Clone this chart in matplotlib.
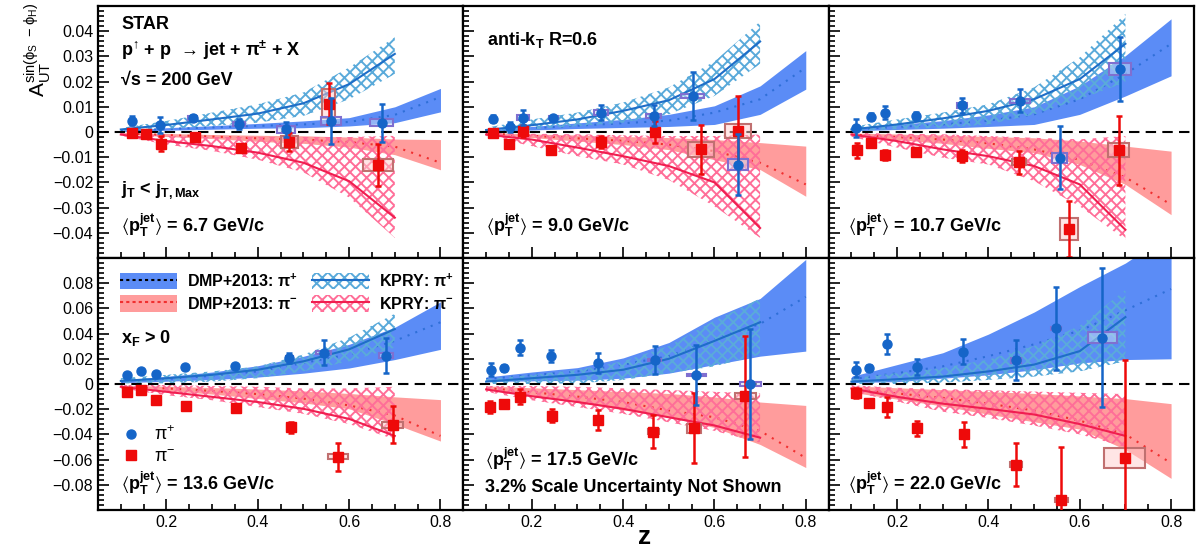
import matplotlib
matplotlib.use('Agg')
import matplotlib.pyplot as plt
from matplotlib.patches import Patch, Rectangle
from matplotlib.lines import Line2D
from matplotlib.ticker import MultipleLocator, FuncFormatter

plt.rcParams['font.family'] = ['Liberation Sans', 'DejaVu Sans']
plt.rcParams['mathtext.fontset'] = 'custom'
plt.rcParams['mathtext.rm'] = 'Liberation Sans'
plt.rcParams['mathtext.default'] = 'regular'
plt.rcParams['hatch.linewidth'] = 1.4

# ---- data: one inner list per panel (top-left, top-mid, top-right, bottom-left, bottom-mid, bottom-right)
jet_pt = ['6.7', '9.0', '10.7', '13.6', '17.5', '22.0']

pip_z = [[0.125, 0.186, 0.257, 0.358, 0.461, 0.561, 0.671],
         [0.115, 0.152, 0.180, 0.247, 0.352, 0.467, 0.552, 0.651],
         [0.111, 0.143, 0.173, 0.241, 0.342, 0.469, 0.556, 0.689],
         [0.113, 0.144, 0.178, 0.241, 0.350, 0.469, 0.544, 0.681],
         [0.111, 0.140, 0.175, 0.242, 0.346, 0.469, 0.560, 0.678],
         [0.110, 0.138, 0.177, 0.243, 0.344, 0.461, 0.549, 0.649]]
pip_a = [[0.0044, 0.0028, 0.0057, 0.0033, 0.0010, 0.0044, 0.0037],
         [0.0053, 0.0020, 0.0057, 0.0057, 0.0077, 0.0064, 0.0143, -0.0129],
         [0.0017, 0.0061, 0.0077, 0.0064, 0.0106, 0.0124, -0.0102, 0.0250],
         [0.0073, 0.0105, 0.0081, 0.0132, 0.0145, 0.0205, 0.0248, 0.0226],
         [0.0113, 0.0127, 0.0288, 0.0221, 0.0167, 0.0189, 0.0073, 0.0000],
         [0.0113, 0.0127, 0.0320, 0.0135, 0.0256, 0.0189, 0.0442, 0.0369]]
pip_err = [[0.0018, 0.0030, 0.0010, 0.0020, 0.0030, 0.0090, 0.0075],
           [0.0015, 0.0020, 0.0030, 0.0008, 0.0030, 0.0042, 0.0097, 0.0120],
           [0.0035, 0.0015, 0.0025, 0.0015, 0.0030, 0.0045, 0.0125, 0.0125],
           [0.0015, 0.0015, 0.0015, 0.0015, 0.0015, 0.0040, 0.0100, 0.0140],
           [0.0050, 0.0020, 0.0060, 0.0050, 0.0080, 0.0110, 0.0240, 0.0440],
           [0.0060, 0.0020, 0.0080, 0.0060, 0.0100, 0.0160, 0.0330, 0.0550]]
pip_sysx = [[0, 0, 0.010, 0.013, 0.020, 0.022, 0.025],
            [0, 0, 0.013, 0.010, 0.015, 0.016, 0.025, 0.022],
            [0, 0, 0, 0, 0.010, 0.022, 0.016, 0.024],
            [0, 0, 0, 0, 0, 0.008, 0.016, 0.016],
            [0, 0, 0, 0, 0, 0.015, 0.021, 0.023],
            [0, 0, 0, 0, 0, 0.011, 0.011, 0.032]]
pip_sysy = [[0, 0, 0.0008, 0.0008, 0.0012, 0.0015, 0.0015],
            [0, 0, 0.0010, 0.0005, 0.0010, 0.0008, 0.0008, 0.0022],
            [0, 0, 0, 0, 0.0010, 0.0008, 0.0020, 0.0022],
            [0, 0, 0, 0, 0, 0.0020, 0.0013, 0.0020],
            [0, 0, 0, 0, 0, 0.0010, 0.0010, 0.0015],
            [0, 0, 0, 0, 0, 0.0020, 0.0010, 0.0045]]

pim_z = [[0.125, 0.156, 0.189, 0.263, 0.363, 0.469, 0.555, 0.664],
         [0.115, 0.151, 0.181, 0.243, 0.352, 0.469, 0.571, 0.652],
         [0.113, 0.143, 0.173, 0.241, 0.343, 0.467, 0.576, 0.685],
         [0.113, 0.144, 0.178, 0.243, 0.352, 0.472, 0.575, 0.695],
         [0.109, 0.140, 0.175, 0.244, 0.346, 0.466, 0.555, 0.668],
         [0.110, 0.138, 0.177, 0.243, 0.346, 0.461, 0.560, 0.699]]
pim_a = [[-0.0002, -0.0007, -0.0046, -0.0019, -0.0064, -0.0039, 0.0113, -0.0131],
         [-0.0003, -0.0049, 0.0004, -0.0072, -0.0040, 0.0000, -0.0069, 0.0004],
         [-0.0073, -0.0042, -0.0090, -0.0078, -0.0096, -0.0120, -0.0385, -0.0072],
         [-0.0067, -0.0048, -0.0124, -0.0175, -0.0189, -0.0345, -0.0579, -0.0323],
         [-0.0183, -0.0162, -0.0102, -0.0250, -0.0286, -0.0377, -0.0350, -0.0097],
         [-0.0075, -0.0150, -0.0183, -0.0350, -0.0399, -0.0641, -0.0919, -0.0587]]
pim_err = [[0.0015, 0.0008, 0.0030, 0.0010, 0.0010, 0.0035, 0.0080, 0.0083],
           [0.0010, 0.0010, 0.0025, 0.0008, 0.0023, 0.0042, 0.0096, 0.0138],
           [0.0030, 0.0015, 0.0020, 0.0015, 0.0025, 0.0045, 0.0110, 0.0137],
           [0.0015, 0.0015, 0.0015, 0.0015, 0.0015, 0.0045, 0.0110, 0.0145],
           [0.0050, 0.0020, 0.0060, 0.0050, 0.0080, 0.0130, 0.0280, 0.0480],
           [0.0040, 0.0020, 0.0080, 0.0060, 0.0100, 0.0170, 0.0420, 0.0780]]
pim_sysx = [[0, 0, 0, 0, 0, 0.018, 0.015, 0.033],
            [0, 0, 0, 0, 0, 0, 0.028, 0.029],
            [0, 0, 0, 0, 0.008, 0.015, 0.020, 0.023],
            [0, 0, 0, 0, 0, 0.008, 0.022, 0.022],
            [0, 0, 0, 0, 0, 0.012, 0.015, 0.023],
            [0, 0, 0, 0, 0, 0.013, 0.015, 0.045]]
pim_sysy = [[0, 0, 0, 0, 0, 0.0025, 0.0057, 0.0022],
            [0, 0, 0, 0, 0, 0, 0.0030, 0.0028],
            [0, 0, 0, 0, 0.0010, 0.0012, 0.0045, 0.0028],
            [0, 0, 0, 0, 0, 0.0020, 0.0020, 0.0025],
            [0, 0, 0, 0, 0, 0.0020, 0.0035, 0.0025],
            [0, 0, 0, 0, 0, 0.0020, 0.0015, 0.0080]]

# ---- theory curves
z_dmp = [0.1, 0.2, 0.3, 0.4, 0.5, 0.6, 0.7, 0.8]
z_kpry = [0.1, 0.2, 0.3, 0.4, 0.5, 0.6, 0.7]

dmp_pip_mid = [[0.0005, 0.0012, 0.0018, 0.0024, 0.0030, 0.0040, 0.0068, 0.0139],
               [0.0005, 0.0015, 0.0025, 0.0035, 0.0045, 0.0077, 0.0130, 0.0256],
               [0.0010, 0.0020, 0.0030, 0.0045, 0.0070, 0.0130, 0.0230, 0.0350],
               [0.0020, 0.0040, 0.0065, 0.0100, 0.0167, 0.0234, 0.0342, 0.0490],
               [0.0040, 0.0070, 0.0100, 0.0154, 0.0221, 0.0356, 0.0477, 0.0692],
               [0.0038, 0.0086, 0.0140, 0.0221, 0.0315, 0.0423, 0.0585, 0.0754]]
dmp_pip_lo = [[0.0002, 0.0007, 0.0011, 0.0015, 0.0017, 0.0024, 0.0037, 0.0080],
              [0.0002, 0.0008, 0.0014, 0.0018, 0.0022, 0.0030, 0.0070, 0.0170],
              [0.0005, 0.0010, 0.0015, 0.0022, 0.0030, 0.0070, 0.0143, 0.0223],
              [0.0010, 0.0022, 0.0035, 0.0055, 0.0086, 0.0127, 0.0194, 0.0275],
              [0.0020, 0.0025, 0.0030, 0.0046, 0.0086, 0.0154, 0.0221, 0.0261],
              [0.0011, 0.0019, 0.0046, 0.0073, 0.0113, 0.0167, 0.0194, 0.0200]]
dmp_pip_hi = [[0.0008, 0.0017, 0.0025, 0.0034, 0.0044, 0.0057, 0.0100, 0.0173],
              [0.0008, 0.0022, 0.0036, 0.0050, 0.0070, 0.0104, 0.0183, 0.0323],
              [0.0015, 0.0030, 0.0045, 0.0068, 0.0100, 0.0183, 0.0303, 0.0449],
              [0.0030, 0.0060, 0.0095, 0.0145, 0.0220, 0.0315, 0.0450, 0.0652],
              [0.0055, 0.0095, 0.0130, 0.0207, 0.0329, 0.0530, 0.0679, 0.0989],
              [0.0060, 0.0154, 0.0248, 0.0396, 0.0571, 0.0773, 0.0960, 0.1200]]

dmp_pim_mid = [[-0.0005, -0.0012, -0.0018, -0.0025, -0.0030, -0.0040, -0.0058, -0.0122],
               [-0.0005, -0.0015, -0.0025, -0.0035, -0.0050, -0.0076, -0.0122, -0.0208],
               [-0.0010, -0.0020, -0.0030, -0.0045, -0.0069, -0.0110, -0.0180, -0.0288],
               [-0.0020, -0.0035, -0.0055, -0.0080, -0.0116, -0.0170, -0.0250, -0.0412],
               [-0.0030, -0.0065, -0.0100, -0.0143, -0.0210, -0.0264, -0.0372, -0.0587],
               [-0.0040, -0.0075, -0.0110, -0.0156, -0.0210, -0.0291, -0.0399, -0.0628]]
dmp_pim_hi = [[-0.0002, -0.0006, -0.0010, -0.0013, -0.0015, -0.0020, -0.0028, -0.0030],
              [-0.0002, -0.0008, -0.0012, -0.0018, -0.0022, -0.0030, -0.0042, -0.0056],
              [-0.0004, -0.0008, -0.0012, -0.0018, -0.0023, -0.0036, -0.0056, -0.0076],
              [-0.0010, -0.0018, -0.0028, -0.0040, -0.0055, -0.0075, -0.0102, -0.0124],
              [-0.0015, -0.0030, -0.0045, -0.0060, -0.0075, -0.0102, -0.0143, -0.0170],
              [-0.0015, -0.0030, -0.0045, -0.0060, -0.0075, -0.0095, -0.0116, -0.0156]]
dmp_pim_lo = [[-0.0008, -0.0018, -0.0026, -0.0037, -0.0045, -0.0060, -0.0090, -0.0150],
              [-0.0008, -0.0022, -0.0036, -0.0050, -0.0070, -0.0110, -0.0149, -0.0255],
              [-0.0015, -0.0030, -0.0045, -0.0065, -0.0082, -0.0129, -0.0208, -0.0328],
              [-0.0030, -0.0052, -0.0080, -0.0115, -0.0150, -0.0197, -0.0318, -0.0453],
              [-0.0045, -0.0095, -0.0145, -0.0205, -0.0264, -0.0345, -0.0480, -0.0663],
              [-0.0065, -0.0120, -0.0175, -0.0240, -0.0300, -0.0358, -0.0520, -0.0749]]

kpry_pip_mid = [[0.0010, 0.0028, 0.0050, 0.0073, 0.0114, 0.0190, 0.0310],
                [0.0008, 0.0027, 0.0050, 0.0084, 0.0126, 0.0210, 0.0359],
                [0.0010, 0.0030, 0.0054, 0.0084, 0.0130, 0.0210, 0.0350],
                [0.0024, 0.0046, 0.0073, 0.0113, 0.0180, 0.0275, 0.0436],
                [0.0019, 0.0046, 0.0073, 0.0113, 0.0200, 0.0342, 0.0490],
                [0.0019, 0.0038, 0.0059, 0.0100, 0.0154, 0.0261, 0.0531]]
kpry_pip_lo = [[0.0004, 0.0012, 0.0024, 0.0037, 0.0064, 0.0130, 0.0230],
               [0.0003, 0.0010, 0.0024, 0.0037, 0.0070, 0.0143, 0.0270],
               [0.0004, 0.0011, 0.0017, 0.0030, 0.0070, 0.0130, 0.0197],
               [0.0005, 0.0005, 0.0019, 0.0046, 0.0100, 0.0180, 0.0288],
               [0.0000, 0.0000, 0.0005, 0.0032, 0.0086, 0.0140, 0.0234],
               [0.0000, 0.0000, 0.0011, 0.0032, 0.0059, 0.0100, 0.0180]]
kpry_pip_hi = [[0.0016, 0.0044, 0.0077, 0.0110, 0.0157, 0.0256, 0.0376],
               [0.0017, 0.0050, 0.0077, 0.0117, 0.0177, 0.0280, 0.0438],
               [0.0020, 0.0050, 0.0077, 0.0110, 0.0177, 0.0296, 0.0469],
               [0.0046, 0.0073, 0.0100, 0.0140, 0.0234, 0.0369, 0.0558],
               [0.0038, 0.0073, 0.0113, 0.0180, 0.0302, 0.0504, 0.0679],
               [0.0046, 0.0086, 0.0127, 0.0194, 0.0302, 0.0463, 0.0746]]

kpry_pim_mid = [[-0.0010, -0.0036, -0.0056, -0.0082, -0.0122, -0.0195, -0.0340],
                [-0.0010, -0.0030, -0.0062, -0.0096, -0.0135, -0.0200, -0.0381],
                [-0.0010, -0.0036, -0.0069, -0.0096, -0.0135, -0.0208, -0.0388],
                [-0.0022, -0.0062, -0.0102, -0.0143, -0.0197, -0.0277, -0.0412],
                [-0.0043, -0.0097, -0.0143, -0.0197, -0.0264, -0.0329, -0.0426],
                [-0.0035, -0.0102, -0.0156, -0.0197, -0.0242, -0.0318, -0.0412]]
kpry_pim_hi = [[-0.0003, -0.0015, -0.0020, -0.0020, -0.0020, -0.0020, -0.0015],
               [-0.0003, -0.0007, -0.0009, -0.0013, -0.0016, -0.0016, -0.0010],
               [-0.0003, -0.0007, -0.0009, -0.0016, -0.0023, -0.0029, -0.0016],
               [-0.0008, -0.0008, -0.0016, -0.0022, -0.0035, -0.0035, -0.0022],
               [-0.0016, -0.0016, -0.0022, -0.0035, -0.0048, -0.0062, -0.0075],
               [-0.0010, -0.0030, -0.0040, -0.0050, -0.0060, -0.0070, -0.0080]]
kpry_pim_lo = [[-0.0015, -0.0050, -0.0075, -0.0110, -0.0160, -0.0260, -0.0420],
               [-0.0016, -0.0056, -0.0096, -0.0129, -0.0190, -0.0295, -0.0420],
               [-0.0019, -0.0062, -0.0102, -0.0129, -0.0195, -0.0295, -0.0428],
               [-0.0035, -0.0089, -0.0129, -0.0183, -0.0237, -0.0318, -0.0440],
               [-0.0062, -0.0129, -0.0183, -0.0237, -0.0304, -0.0372, -0.0466],
               [-0.0060, -0.0140, -0.0220, -0.0270, -0.0330, -0.0400, -0.0500]]

# ---- colours
c_dmp_p = '#5b8cf6'
c_dmp_m = '#ff9c9c'
c_dmp_p_line = '#2f6fd8'
c_dmp_m_line = '#f03030'
c_kp_p_hatch = '#5aaada'
c_kp_m_hatch = '#ff6e98'
c_kp_p_line = '#1e6ec8'
c_kp_m_line = '#f01e50'
c_pip = '#1565c8'
c_pim = '#ee0a0a'
HATCH = 'xxx'

fig = plt.figure(figsize=(12.03, 5.49), dpi=100)
W, H = 1203.0, 549.0
x0, pw = 98 / W, 365.3 / W
rows_y = [1 - 258 / H, 1 - 510 / H]
ph = 252 / H


def make_fmt(lim):
    def fmt(v, pos):
        if abs(v) < 1e-9:
            return '0'
        if abs(v) > lim:
            return ''
        return ('%.2f' % v).replace('-', '\u2212')
    return fmt


axes = []
for i in range(6):
    r, c = divmod(i, 3)
    ax = fig.add_axes([x0 + c * pw, rows_y[r], pw, ph])
    axes.append(ax)
    ax.set_xlim(0.05, 0.85)
    if r == 0:
        ax.set_ylim(-0.05, 0.05)
        ax.yaxis.set_major_locator(MultipleLocator(0.01))
        ax.yaxis.set_minor_locator(MultipleLocator(0.002))
        ax.yaxis.set_major_formatter(FuncFormatter(make_fmt(0.045)))
    else:
        ax.set_ylim(-0.1, 0.1)
        ax.yaxis.set_major_locator(MultipleLocator(0.02))
        ax.yaxis.set_minor_locator(MultipleLocator(0.004))
        ax.yaxis.set_major_formatter(FuncFormatter(make_fmt(0.09)))
    ax.xaxis.set_major_locator(MultipleLocator(0.2))
    ax.xaxis.set_minor_locator(MultipleLocator(0.05))
    ax.tick_params(which='both', direction='in', top=False, right=False, labelsize=11.5, width=1.2)
    ax.tick_params(which='major', length=8)
    ax.tick_params(which='minor', length=4)
    for sp in ax.spines.values():
        sp.set_linewidth(1.6)
    if c > 0:
        ax.tick_params(labelleft=False)
    if r == 0:
        ax.tick_params(labelbottom=False)
    else:
        ax.set_xticks([0.2, 0.4, 0.6, 0.8])
        ax.set_xticklabels(['0.2', '0.4', '0.6', '0.8'])

    # DMP+2013 bands
    ax.fill_between(z_dmp, dmp_pip_lo[i], dmp_pip_hi[i], color=c_dmp_p, lw=0, zorder=1)
    ax.fill_between(z_dmp, dmp_pim_lo[i], dmp_pim_hi[i], color=c_dmp_m, lw=0, zorder=1)
    ax.plot(z_dmp, dmp_pip_mid[i], ls=(0, (1, 3)), color=c_dmp_p_line, lw=1.5, zorder=2)
    ax.plot(z_dmp, dmp_pim_mid[i], ls=(0, (1, 3)), color=c_dmp_m_line, lw=1.5, zorder=2)
    # KPRY bands
    ax.fill_between(z_kpry, kpry_pip_lo[i], kpry_pip_hi[i], facecolor='none',
                    edgecolor=c_kp_p_hatch, hatch=HATCH, lw=0, zorder=3)
    ax.fill_between(z_kpry, kpry_pim_lo[i], kpry_pim_hi[i], facecolor='none',
                    edgecolor=c_kp_m_hatch, hatch=HATCH, lw=0, zorder=3)
    ax.plot(z_kpry, kpry_pip_mid[i], color=c_kp_p_line, lw=1.5, zorder=4)
    ax.plot(z_kpry, kpry_pim_mid[i], color=c_kp_m_line, lw=1.5, zorder=4)

    ax.axhline(0, color='black', lw=1.5, ls=(0, (5, 3)), zorder=5)

    # systematic boxes
    for zz, aa, sx, sy in zip(pim_z[i], pim_a[i], pim_sysx[i], pim_sysy[i]):
        if sx > 0:
            ax.add_patch(Rectangle((zz - sx, aa - sy), 2 * sx, 2 * sy, facecolor=(1, 0.8, 0.8, 0.5),
                                   edgecolor='#c07070', lw=1.5, zorder=6))
    for zz, aa, sx, sy in zip(pip_z[i], pip_a[i], pip_sysx[i], pip_sysy[i]):
        if sx > 0:
            ax.add_patch(Rectangle((zz - sx, aa - sy), 2 * sx, 2 * sy, facecolor=(0.8, 0.87, 0.97, 0.5),
                                   edgecolor='#7f6fd0', lw=1.5, zorder=6))

    ax.errorbar(pim_z[i], pim_a[i], yerr=pim_err[i], fmt='s', color=c_pim, ms=7, elinewidth=1.8,
                capsize=2.5, capthick=1.8, zorder=7)
    ax.errorbar(pip_z[i], pip_a[i], yerr=pip_err[i], fmt='o', color=c_pip, ms=6.5, elinewidth=1.8,
                capsize=2.5, capthick=1.8, zorder=8)

    ax.text(0.063 if c != 2 else 0.052, 0.13 if r == 0 else 0.105,
            r'$\langle p_{T}^{jet}\rangle$ = ' + jet_pt[i] + ' GeV/c',
            transform=ax.transAxes, fontsize=13, weight='bold', va='center')

# move the 17.5 label up (it has a second line under it)
axes[4].texts[0].set_position((0.06, 0.2))

tb = dict(fontsize=13, weight='bold', va='center')
axes[0].text(0.063, 0.925, 'STAR', transform=axes[0].transAxes, **tb)
axes[0].text(0.063, 0.825, '$p^{\u2191}$ + p  \u2192 jet + $\\pi^{\\pm}$ + X',
             transform=axes[0].transAxes, **tb)
axes[0].text(0.063, 0.706, '\u221As = 200 GeV', transform=axes[0].transAxes, **tb)
axes[0].text(0.063, 0.27, r'$j_{T}$ < $j_{T,Max}$', transform=axes[0].transAxes, **tb)
axes[1].text(0.066, 0.865, r'anti-$k_{T}$ R=0.6', transform=axes[1].transAxes, **tb)
axes[3].text(0.063, 0.683, r'$x_{F}$ > 0', transform=axes[3].transAxes, **tb)
axes[4].text(0.06, 0.09, '3.2% Scale Uncertainty Not Shown', transform=axes[4].transAxes, **tb)

# legends in bottom-left panel
h_dmp_p = (Patch(facecolor=c_dmp_p, edgecolor='none'), Line2D([], [], color='black', ls=(0, (1.5, 1.5)), lw=1.5))
h_dmp_m = (Patch(facecolor=c_dmp_m, edgecolor='none'), Line2D([], [], color=c_dmp_m_line, ls=(0, (1.5, 1.5)), lw=1.5))
h_kp_p = (Patch(facecolor='none', edgecolor=c_kp_p_hatch, hatch=HATCH, lw=0), Line2D([], [], color=c_kp_p_line, lw=1.5))
h_kp_m = (Patch(facecolor='none', edgecolor=c_kp_m_hatch, hatch=HATCH, lw=0), Line2D([], [], color=c_kp_m_line, lw=1.5))
leg1 = axes[3].legend([h_dmp_p, h_dmp_m, h_kp_p, h_kp_m],
                      [r'DMP+2013: $\pi^{+}$', r'DMP+2013: $\pi^{-}$', r'KPRY: $\pi^{+}$', r'KPRY: $\pi^{-}$'],
                      ncol=2, loc='upper left', bbox_to_anchor=(0.02, 1.0), frameon=False,
                      handlelength=3.6, handleheight=1.2, columnspacing=0.9, labelspacing=0.35,
                      handletextpad=0.6, prop={'weight': 'bold', 'size': 11.5})
axes[3].add_artist(leg1)
h_pip = Line2D([], [], marker='o', ls='none', color=c_pip, ms=6.5)
h_pim = Line2D([], [], marker='s', ls='none', color=c_pim, ms=7)
axes[3].legend([h_pip, h_pim], [r'$\pi^{+}$', r'$\pi^{-}$'], loc='upper left',
               bbox_to_anchor=(0.02, 0.40), frameon=False, handlelength=1.0, handletextpad=0.8,
               labelspacing=0.25, prop={'size': 13})

fig.text(38 / W, 0.995, r'$A_{UT}^{sin(\phi_{S}\ -\phi_{H})}$', rotation=90, ha='center', va='top', fontsize=15)
fig.text(645 / W, 1 - 537 / H, 'z', fontsize=19, weight='bold', ha='center', va='center')

fig.savefig('out.png', dpi=100)
